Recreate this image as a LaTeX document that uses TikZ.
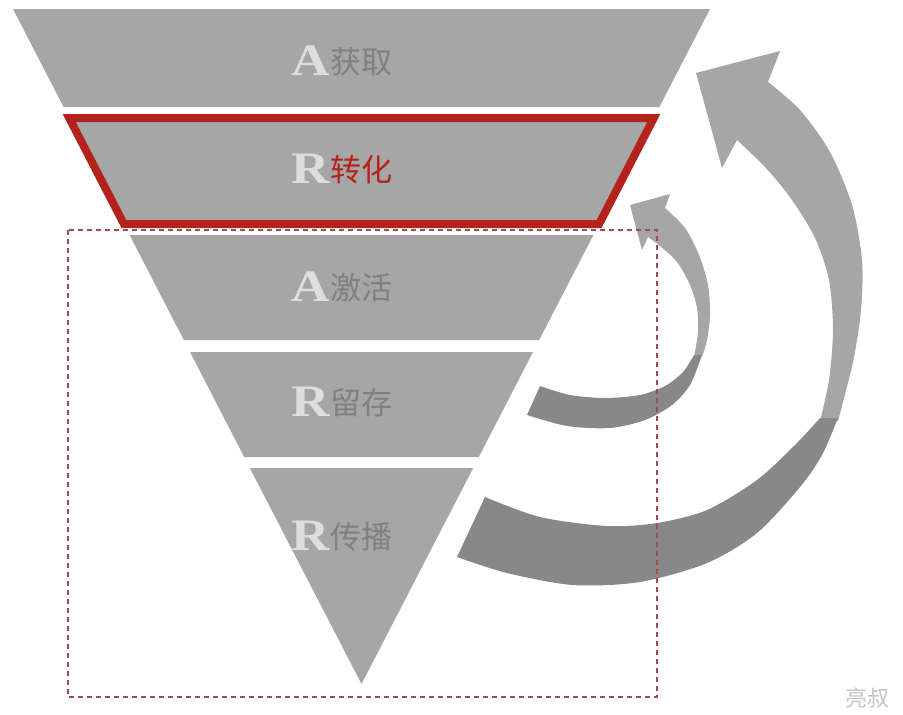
\documentclass[tikz,border=0pt]{standalone}
\usepackage{fontspec}
\newfontfamily\cjk{Noto Sans CJK SC}
\newfontfamily\lat{Liberation Serif}
\definecolor{funnel}{RGB}{166,166,166}
\definecolor{arrdark}{RGB}{136,136,136}
\definecolor{redline}{RGB}{180,34,28}
\definecolor{cntext}{RGB}{128,128,128}
\definecolor{lettr}{RGB}{222,222,222}
\definecolor{dashc}{RGB}{165,75,75}
\definecolor{wmark}{RGB}{196,196,196}
\newcommand{\wideletter}[1]{\scalebox{1.18}[1]{#1}}
\begin{document}
\begin{tikzpicture}[x=1pt,y=-1pt,
  band/.style={fill=funnel},
  cn/.style={inner sep=0pt, anchor=west, font=\cjk\fontsize{31}{31}\selectfont, text=cntext},
  lt/.style={inner sep=0pt, anchor=base east, font=\lat\bfseries\fontsize{45}{45}\selectfont, text=lettr},
  lightarrow/.style={fill=funnel},
  darkarrow/.style={fill=arrdark},
  frame/.style={draw=dashc, line width=1.5pt, dash pattern=on 5pt off 4pt}
]
\fill[white] (0,0) rectangle (903,715);
\useasboundingbox (0,0) rectangle (903,715);

% funnel bands
\fill[band] (13,9) -- (710,9) -- (659.4,107) -- (63.6,107) -- cycle;
\filldraw[fill=funnel, draw=redline, line width=8pt, line join=miter] (69.2,118) -- (653.8,118) -- (599.1,224) -- (123.9,224) -- cycle;
\fill[band] (129.6,235) -- (593.4,235) -- (539.2,340) -- (183.8,340) -- cycle;
\fill[band] (190,352) -- (533,352) -- (478.8,457) -- (244.2,457) -- cycle;
\fill[band] (249.8,468) -- (473.2,468) -- (361.5,684) -- cycle;

% labels
\node[cn] (c1) at (330,62) {获取};
\node[lt] (l1) at ([yshift=-2pt]c1.base west) {\wideletter{A}};
\node[cn, text=redline] (c2) at (330,170) {转化};
\node[lt] (l2) at ([yshift=-2pt]c2.base west) {\wideletter{R}};
\node[cn] (c3) at (330,288) {激活};
\node[lt] (l3) at ([yshift=-2pt]c3.base west) {\wideletter{A}};
\node[cn] (c4) at (330,403) {留存};
\node[lt] (l4) at ([yshift=-2pt]c4.base west) {\wideletter{R}};
\node[cn] (c5) at (330,537) {传播};
\node[lt] (l5) at ([yshift=-2pt]c5.base west) {\wideletter{R}};

% big arrow
\fill[lightarrow] plot[smooth] coordinates {(820,421) (829,380) (833,330) (829,280) (815,238) (792,200) (766,168) (737,140)} -- (722,168) -- (696,73) -- (780,51) -- (768,82) -- plot[smooth] coordinates {(768,82) (800,110) (830,152) (852,205) (862,260) (861,310) (853,362) (838,421)} -- cycle;
\fill[darkarrow] plot[smooth] coordinates {(838,418) (822,455) (800,487) (757,533) (707,563) (640,582) (573,585) (507,573) (457,557)} -- (485,497) -- plot[smooth] coordinates {(485,497) (540,517) (607,526) (657,523) (707,510) (757,480) (795,445) (820,418)} -- cycle;

% small arrow
\fill[lightarrow] plot[smooth] coordinates {(694,357) (698,332) (697,308) (690,285) (677,262) (660,246) (648,237)} -- (642,250) -- (630,205) -- (670,194) -- (665,208) -- plot[smooth] coordinates {(665,208) (685,228) (699,255) (708,285) (710,315) (707,340) (702,357)} -- cycle;
\fill[darkarrow] plot[smooth] coordinates {(702,355) (690,385) (672,405) (645,420) (610,428) (567,426) (527,415)} -- (540,386) -- plot[smooth] coordinates {(540,386) (570,395) (605,398) (640,395) (665,386) (683,372) (694,355)} -- cycle;

% dashed frame
\draw[frame] (68,230) rectangle (657,697);

% watermark
\node[font=\cjk\fontsize{22}{22}\selectfont, text=wmark, inner sep=0pt] (wm) at (867,698) {亮叔};
\end{tikzpicture}
\end{document}
